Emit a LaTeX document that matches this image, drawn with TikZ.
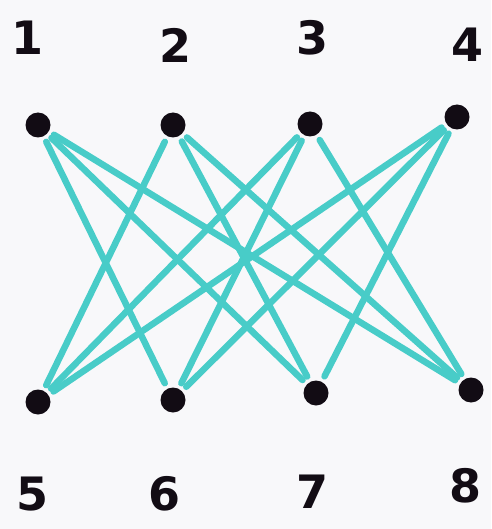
\documentclass[tikz,border=0pt]{standalone}
\usepackage{fontspec}
\setmainfont{DejaVu Sans}
\definecolor{edgeteal}{RGB}{72,204,200}
\definecolor{inkdot}{RGB}{18,12,20}
\definecolor{paper}{RGB}{248,248,250}
\tikzset{
  vdot/.style={circle,fill=inkdot,inner sep=0pt,minimum size=25pt},
  vlabel/.style={font=\fontsize{46}{46}\selectfont\bfseries,text=inkdot,inner sep=0pt},
  edge/.style={draw=edgeteal,line width=6.5pt,line cap=round,shorten <=6pt,shorten >=6pt}
}
\begin{document}
\begin{tikzpicture}[x=1pt,y=-1pt]
\fill[paper] (0,0) rectangle (491,529);
\useasboundingbox (0,0) rectangle (491,529);
% vertices
\node[vdot] (v1) at (38,125) {};
\node[vdot] (v2) at (173,125) {};
\node[vdot] (v3) at (310,124) {};
\node[vdot] (v4) at (457,117) {};
\node[vdot] (v5) at (38,402) {};
\node[vdot] (v6) at (173,400) {};
\node[vdot] (v7) at (316,393) {};
\node[vdot] (v8) at (471,390) {};
% labels
\node[vlabel] (l1) at (28,38) {1};
\node[vlabel] (l2) at (175,45) {2};
\node[vlabel] (l3) at (312,38) {3};
\node[vlabel] (l4) at (467,45) {4};
\node[vlabel] (l5) at (33,494) {5};
\node[vlabel] (l6) at (165,494) {6};
\node[vlabel] (l7) at (312,492) {7};
\node[vlabel] (l8) at (465,486) {8};
% edges
\path[edge] (v1) -- (v6);
\path[edge] (v1) -- (v7);
\path[edge] (v1) -- (v8);
\path[edge] (v2) -- (v5);
\path[edge] (v2) -- (v7);
\path[edge] (v2) -- (v8);
\path[edge] (v3) -- (v5);
\path[edge] (v3) -- (v6);
\path[edge] (v3) -- (v8);
\path[edge] (v4) -- (v5);
\path[edge] (v4) -- (v6);
\path[edge] (v4) -- (v7);
\end{tikzpicture}
\end{document}
